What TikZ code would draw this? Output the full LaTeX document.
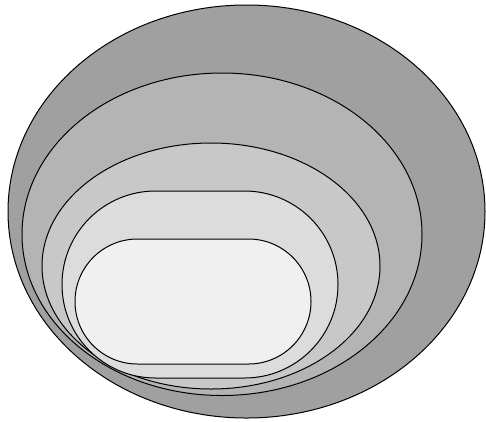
\documentclass[tikz,border=0pt]{standalone}
\begin{document}
\begin{tikzpicture}[x=1pt,y=-1pt,
  layer/.style={draw=black, line width=1pt}]
\useasboundingbox (0,0) rectangle (486,421);
\definecolor{lone}{RGB}{160,160,160}
\definecolor{ltwo}{RGB}{180,180,180}
\definecolor{lthree}{RGB}{200,200,200}
\definecolor{lfour}{RGB}{220,220,220}
\definecolor{lfive}{RGB}{240,240,240}
% outer ellipse
\draw[layer, fill=lone] (246.5,211.5) ellipse [x radius=238.5, y radius=206.5];
% second layer
\draw[layer, fill=ltwo] (222,234.25) ellipse [x radius=200, y radius=161.25];
% third layer
\draw[layer, fill=lthree] (211,266) ellipse [x radius=169, y radius=123];
% fourth layer
\draw[layer, fill=lfour, rounded corners=93.5pt] (62,191) rectangle (338,378);
% innermost layer
\draw[layer, fill=lfive, rounded corners=62.5pt] (75,239) rectangle (311,364);
\end{tikzpicture}
\end{document}
